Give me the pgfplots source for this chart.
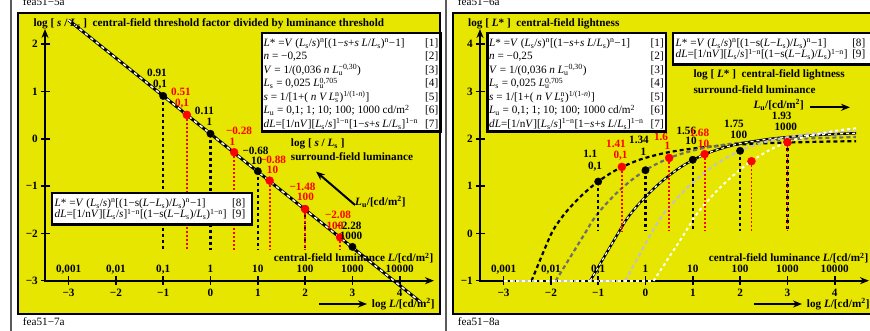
\documentclass[border=0pt]{standalone}
\usepackage{pgfplots}
\pgfplotsset{compat=1.18}
\usepackage{fontspec}
\setmainfont{Liberation Serif}
\usetikzlibrary{arrows.meta}
\definecolor{ylw}{RGB}{230,230,0}
\definecolor{gframe}{RGB}{90,90,90}
\definecolor{gcurve}{RGB}{110,110,110}
\definecolor{lgcurve}{RGB}{195,195,195}
\newcommand{\I}[1]{\textit{#1}}
\newcommand{\sub}[1]{\textsubscript{#1}}
\newcommand{\sups}[1]{\textsuperscript{#1}}
\newcommand{\bt}{\bfseries\fontsize{11.2}{13}\selectfont}
\newcommand{\rt}{\fontsize{11.2}{13}\selectfont}
\tikzset{
  lb/.style={anchor=base,font=\bt,inner sep=0pt},
  lw/.style={anchor=base west,font=\bt,inner sep=0pt},
  le/.style={anchor=base east,font=\bt,inner sep=0pt},
  eq/.style={anchor=base west,font=\rt,inner sep=0pt},
  eqn/.style={anchor=base east,font=\rt,inner sep=0pt},
  arr/.style={line width=2pt,-{Stealth[length=9pt,width=7pt]}},
}
\pgfplotsset{panel/.style={hide axis,scale only axis,width=435pt,height=331pt,
  xmin=-4.4503,xmax=4.7463,clip=false,unbounded coords=jump,anchor=south west},
  bvert/.style={black,line width=2.4pt,dash pattern=on 3pt off 3pt},
  rvert/.style={red,line width=1.8pt,dash pattern=on 2pt off 2pt},
  bdot/.style={only marks,mark=*,mark size=3.7pt,black},
  rdot/.style={only marks,mark=*,mark size=4pt,red},
  cA/.style={black,line width=2.2pt,dash pattern=on 4pt off 3pt},
  cB/.style={gcurve,line width=2.2pt,dash pattern=on 4pt off 3pt},
  cCb/.style={black,line width=2.4pt},
  cCw/.style={white,line width=1.2pt,dash pattern=on 3pt off 3pt},
  cD/.style={lgcurve,line width=2.2pt,dash pattern=on 4pt off 3pt},
  cE/.style={white,line width=2pt,dash pattern=on 3pt off 3pt},
}
\begin{document}
\begin{tikzpicture}
\begin{scope}[shift={(0pt,331pt)},x=1pt,y=-1pt]
\fill[white] (0,0) rectangle (870,331);
\draw[gframe,line width=1.5pt] (11,0) -- (11,331);
\draw[gframe,line width=1.5pt] (446,0) -- (446,331);
\draw[black,line width=2pt,fill=ylw] (18,13) rectangle (440,314);
\draw[black,line width=2pt,fill=ylw] (453,13) rectangle (878,314);
\foreach \o in {0,435}{
  \draw[arr] ({45+\o},281.5) -- ({45+\o},29);
  \draw[arr] ({44+\o},280.7) -- ({434+\o},280.7);
  \draw[arr] ({319+\o},304) -- ({367+\o},304);
  \foreach \k in {-3,...,4} \draw[line width=1.6pt] ({210.5+47.3*\k+\o},276.5) -- ({210.5+47.3*\k+\o},285);
  \foreach \k in {0,...,5} \draw[line width=1.6pt] ({41+\o},{280.7-47.3*\k}) -- ({49.5+\o},{280.7-47.3*\k});
}
\end{scope}

% ---------------- left panel ----------------
\begin{axis}[panel,at={(0pt,0pt)},ymin=-4.0592,ymax=2.9387]
\addplot[black,line width=3pt] coordinates {(-3,2.513) (4.45,-3.456)};
\addplot[white,line width=1.5pt,dash pattern=on 3.5pt off 3.5pt] coordinates {(-3,2.513) (4.45,-3.456)};
\addplot[bvert] coordinates {(-1,0.91) (-1,-2.35) (-1,nan) (0,0.11) (0,-2.35) (0,nan) (1,-0.68) (1,-2.35) (1,nan) (2,-1.48) (2,-2.35) (2,nan) (3,-2.28) (3,-2.35)};
\addplot[rvert] coordinates {(-0.5,0.51) (-0.5,-2.35) (-0.5,nan) (0.5,-0.28) (0.5,-2.35) (0.5,nan) (1.25,-0.88) (1.25,-2.35) (1.25,nan) (2,-1.48) (2,-2.35) (2,nan) (2.74,-2.08) (2.74,-2.35)};
\addplot[bdot] coordinates {(-1,0.91) (0,0.11) (1,-0.68) (2,-1.48) (3,-2.28)};
\addplot[rdot] coordinates {(-0.5,0.51) (0.5,-0.28) (1.25,-0.88) (2,-1.48) (2.74,-2.08)};
\end{axis}

% ---------------- right panel ----------------
\begin{axis}[panel,at={(435pt,0pt)},ymin=-2.0592,ymax=4.9387]
% Lu = 0.1
\addplot[cA] coordinates {(-3,-1) (-2.41,-1)};
\addplot[cA,smooth] coordinates {(-2.41,-1) (-2.007,-0.035) (-1.807,0.290) (-1.607,0.540) (-1.307,0.846) (-1.007,1.096) (-0.607,1.352) (-0.107,1.568) (0.493,1.721) (1.193,1.821) (1.893,1.878) (2.693,1.916) (3.693,1.942) (4.453,1.954)};
% Lu = 1
\addplot[cB] coordinates {(-3,-1) (-1.90,-1)};
\addplot[cB,smooth] coordinates {(-1.90,-1) (-1.302,-0.029) (-1.102,0.2985) (-0.902,0.552) (-0.602,0.866) (-0.302,1.126) (0.098,1.400) (0.598,1.6345) (1.198,1.802) (1.898,1.910) (2.598,1.971) (3.398,2.012) (4.448,2.041)};
% Lu = 10
\addplot[cCb] coordinates {(-3,-1) (-1.17,-1)};
\addplot[cCw] coordinates {(-3,-1) (-1.17,-1)};
\addplot[cCb,smooth] coordinates {(-1.17,-1) (-0.597,-0.023) (-0.397,0.306) (-0.197,0.562) (0.103,0.882) (0.403,1.152) (0.803,1.4425) (1.303,1.6975) (1.903,1.881) (2.603,1.999) (3.303,2.065) (4.103,2.108) (4.453,2.121)};
\addplot[cCw,smooth] coordinates {(-1.17,-1) (-0.597,-0.023) (-0.397,0.306) (-0.197,0.562) (0.103,0.882) (0.403,1.152) (0.803,1.4425) (1.303,1.6975) (1.903,1.881) (2.603,1.999) (3.303,2.065) (4.103,2.108) (4.453,2.121)};
% Lu = 100
\addplot[cD] coordinates {(-3,-1) (-0.43,-1)};
\addplot[cD,smooth] coordinates {(-0.43,-1) (0.108,-0.019) (0.308,0.3115) (0.508,0.570) (0.808,0.896) (1.108,1.174) (1.508,1.4805) (2.008,1.7565) (2.608,1.9577) (3.308,2.086) (4.008,2.157) (4.453,2.186)};
% Lu = 1000
\addplot[cE] coordinates {(-3,-1) (0.17,-1)};
\addplot[cE,smooth] coordinates {(0.17,-1) (0.813,-0.016) (1.013,0.316) (1.213,0.577) (1.513,0.907) (1.813,1.193) (2.213,1.514) (2.713,1.812) (3.313,2.032) (4.013,2.172) (4.453,2.225)};
\addplot[bvert] coordinates {(-1,1.10) (-1,0.05) (-1,nan) (0,1.34) (0,0.05) (0,nan) (1,1.56) (1,0.05) (1,nan) (2,1.75) (2,0.05) (2,nan) (3,1.93) (3,0.05)};
\addplot[rvert] coordinates {(-0.5,1.41) (-0.5,0.05) (-0.5,nan) (0.5,1.60) (0.5,0.05) (0.5,nan) (1.25,1.68) (1.25,0.05) (1.25,nan) (2.24,1.53) (2.24,0.05) (2.24,nan) (3,1.93) (3,0.05)};
\addplot[bdot] coordinates {(-1,1.10) (0,1.34) (1,1.56) (2,1.75) (3,1.93)};
\addplot[rdot] coordinates {(-0.5,1.41) (0.5,1.60) (1.25,1.68) (2.24,1.53) (3,1.93)};
\end{axis}

% ---------------- texts ----------------
\begin{scope}[shift={(0pt,331pt)},x=1pt,y=-1pt]
\foreach \o in {0,435}{
  \foreach \k/\t in {-3/{0,001},-2/{0,01},-1/{0,1},0/1,1/10,2/100,3/1000,4/10000}
    \node[lb] at ({210.5+47.3*\k+\o},272.8) {\t};
  \foreach \k/\t in {-3/−3,-2/−2,-1/−1,0/0,1/1,2/2,3/3,4/4}
    \node[lb] at ({210.5+47.3*\k+\o},296.5) {\t};
  \node[le] at ({433.5+\o},262) {central-field luminance \I{L}/[cd/m\sups{2}]};
  \node[lw] at ({371.7+\o},307.8) {log \I{L}/[cd/m\sups{2}]};
}
\foreach \k/\t in {0/−3,1/−2,2/−1,3/0,4/1,5/2}
  \node[le] at (38,{280.7-47.3*\k+3.8}) {\t};
\foreach \k/\t in {0/−1,1/0,2/1,3/2,4/3,5/4}
  \node[le] at (473,{280.7-47.3*\k+3.8}) {\t};
\node[anchor=base west,font=\rt,inner sep=0pt] at (22.7,5.5) {fea51−5a};
\node[anchor=base west,font=\rt,inner sep=0pt] at (22.7,326) {fea51−7a};
\node[anchor=base west,font=\rt,inner sep=0pt] at (457.7,5.5) {fea51−6a};
\node[anchor=base west,font=\rt,inner sep=0pt] at (457.7,326) {fea51−8a};
% left texts
\node[lw] at (33.3,26.5) {log [ \I{s} / \I{L}\sub{s} ]\ \ central-field threshold factor divided by luminance threshold};
\node[lw] at (290.7,146.5) {log [ \I{s} / \I{L}\sub{s} ]};
\node[lw] at (290.7,160.5) {surround-field luminance};
\node[lw] at (355,205.8) {\I{L}\sub{u}/[cd/m\sups{2}]};
\draw[arr] (355,205) -- (316,171.5);
% left value labels
\node[lb] at (157,76.8) {0.91};
\node[lb] at (160,87.8) {0,1};
\node[lb] at (204.4,114.8) {0.11};
\node[lb] at (209.5,125.8) {1};
\node[lb] at (255.5,154.5) {−0.68};
\node[lb] at (256.7,164.8) {10};
\node[lb] at (348.5,229.5) {−2.28};
\node[lb] at (351,239.8) {1000};
\node[lb,text=red] at (181,95.8) {0.51};
\node[lb,text=red] at (182,106.8) {0,1};
\node[lb,text=red] at (239,134.8) {−0.28};
\node[lb,text=red] at (232.3,145.5) {1};
\node[lb,text=red] at (273,163.1) {−0.88};
\node[lb,text=red] at (272.5,173.8) {10};
\node[lb,text=red] at (302.5,190.8) {−1.48};
\node[lb,text=red] at (305.5,200.8) {100};
\node[lb,text=red] at (338,218.8) {−2.08};
\node[lb,text=red] at (335,229.5) {100};
% right texts
\node[lw] at (468,26.5) {log [ \I{L}* ]\ \ central-field lightness};
\node[lw] at (693.3,77.8) {log [ \I{L}* ]\ \ central-field lightness};
\node[lw] at (693.3,93.1) {surround-field luminance};
\node[lw] at (753.3,108.8) {\I{L}\sub{u}/[cd/m\sups{2}]};
\draw[arr] (810,107.3) -- (850,107.3);
\node[lb] at (590.3,157.1) {1.1};
\node[lb] at (595,169.5) {0,1};
\node[lb] at (639,143.1) {1.34};
\node[lb] at (643.3,155.5) {1};
\node[lb] at (686.3,134.5) {1.56};
\node[lb] at (691,144.5) {10};
\node[lb] at (734,127.8) {1.75};
\node[lb] at (738.7,138.8) {100};
\node[lb] at (781.7,119.8) {1.93};
\node[lb] at (785.8,130.5) {1000};
\node[lb,text=red] at (616,147.1) {1.41};
\node[lb,text=red] at (620.5,158.8) {0,1};
\node[lb,text=red] at (661,140.5) {1.6};
\node[lb,text=red] at (667.5,150) {1};
\node[lb,text=red] at (699.3,136.1) {1.68};
\node[lb,text=red] at (703.5,147.1) {10};
% equation boxes [1]-[7]
\foreach \o in {0,225.5}{
  \draw[line width=2.5pt,fill=white] ({262+\o},33) rectangle ({440.5+\o},131.5);
  \node[eq] at ({263.5+\o},46.5) {\I{L}* =\I{V} (\I{L}\sub{s}/\I{s})\sups{n}[(1−\I{s}+\I{s} \I{L}/\I{L}\sub{s})\sups{n}−1]};
  \node[eq] at ({263.5+\o},60) {\I{n} = −0,25};
  \node[eq] at ({263.5+\o},73.5) {\I{V} = 1/(0,036 \I{n} \I{L}\rlap{\sub{u}}\sups{−0,30})};
  \node[eq] at ({263.5+\o},87) {\I{L}\sub{s} = 0,025 \I{L}\rlap{\sub{u}}\sups{0,705}};
  \node[eq] at ({263.5+\o},100.5) {\I{s} = 1/[1+( \I{n V L}\rlap{\sub{s}}\sups{n})\sups{1/(1-\I{n})}]};
  \node[eq] at ({263.5+\o},114) {\I{L}\sub{u} = 0,1; 1; 10; 100; 1000 cd/m\sups{2}};
  \node[eq] at ({263.5+\o},127.5) {\I{dL}=[1/n\I{V}][\I{L}\sub{s}/\I{s}]\sups{1−n}[1−\I{s}+\I{s} \I{L}/\I{L}\sub{s}]\sups{1−n}};
  \foreach \j in {1,...,7}
    \node[eqn] at ({438.5+\o},{46.5+13.5*(\j-1)}) {[\j]};
}
% equation boxes [8]-[9]
\foreach \a/\b/\t/\r/\y in {52/252/193/245.5/206.5,673/880/33/865.5/46.5}{
  \draw[line width=2.5pt,fill=white] (\a,\t) rectangle (\b,{\t+31.5});
  \node[eq] at ({\a+2.5},\y) {\I{L}* =\I{V} (\I{L}\sub{s}/\I{s})\sups{n}[(1−s(\I{L}−\I{L}\sub{s})/\I{L}\sub{s})\sups{n}−1]};
  \node[eq] at ({\a+2.5},{\y+11.5}) {\I{dL}=[1/n\I{V}][\I{L}\sub{s}/\I{s}]\sups{1−n}[(1−s(\I{L}−\I{L}\sub{s})/\I{L}\sub{s})\sups{1−n}]};
  \node[eqn] at (\r,\y) {[8]};
  \node[eqn] at (\r,{\y+11.5}) {[9]};
}
\end{scope}
\pgfresetboundingbox
\path[use as bounding box] (0,0) rectangle (870pt,331pt);
\end{tikzpicture}
\end{document}
